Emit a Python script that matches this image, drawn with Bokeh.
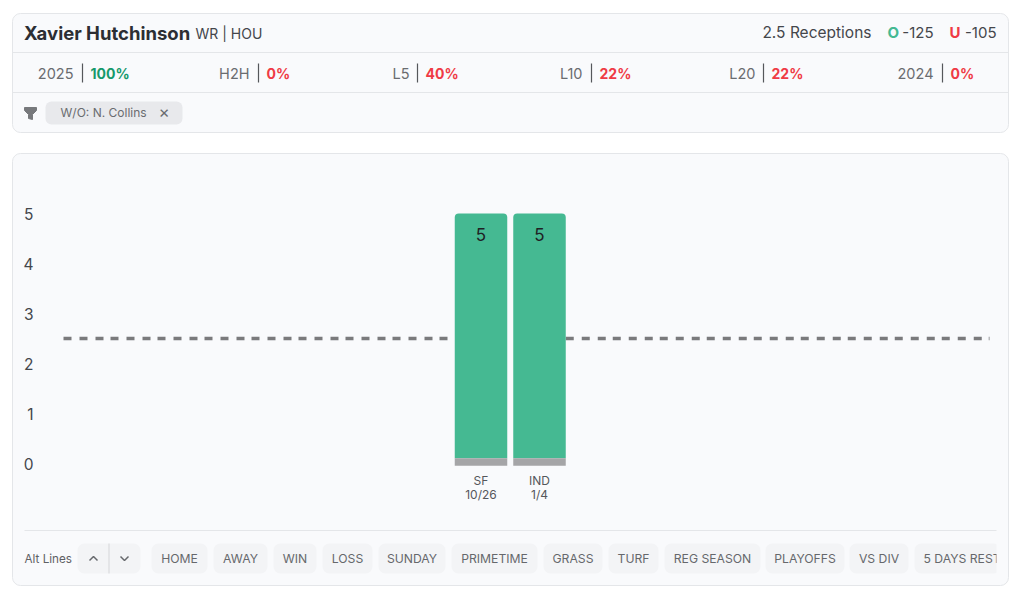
from bokeh.core.properties import value
from bokeh.embed import file_html
from bokeh.resources import INLINE
from bokeh.plotting import figure
from bokeh.models import (BoxAnnotation, ColumnDataSource, FixedTicker, Label,
                          LinearAxis, Range1d)

# ---- chart data ----
opponents = ["SF", "IND"]
dates = ["10/26", "1/4"]
receptions = [5, 5]
line_value = 2.5
y_ticks = [0, 1, 2, 3, 4, 5]
base_low = -0.046
base_high = 0.106

# ---- header data ----
player = "Xavier Hutchinson"
position = "WR | HOU"
market = "2.5 Receptions"
over_odds = "-125"
under_odds = "-105"
split_names = ["2025", "H2H", "L5", "L10", "L20", "2024"]
split_rates = ["100%", "0%", "40%", "22%", "22%", "0%"]
filter_names = ["HOME", "AWAY", "WIN", "LOSS", "SUNDAY", "PRIMETIME", "GRASS",
                "TURF", "REG SEASON", "PLAYOFFS", "VS DIV", "5 DAYS REST"]

# ---- layout constants (page pixels) ----
FONT = "Inter"
W, H = 1024, 598
PAGE = 0
BAR_STEP = 58.5
BAR_W = 52.5
UNIT = 50
X0 = 480.5
Y0 = 463
CARD = "#f9fafc"
EDGE = "#e4e6e9"
GREEN = "#45b992"
RED = "#ef3a45"

p = figure(width=W, height=H, output_backend="svg", toolbar_location=None,
           x_axis_type=None, y_axis_type=None, min_border=0,
           x_range=Range1d((PAGE - X0) / BAR_STEP, (PAGE + W - X0) / BAR_STEP),
           y_range=Range1d((Y0 - PAGE - H) / UNIT, (Y0 - PAGE) / UNIT))
p.grid.visible = False
p.outline_line_color = None
p.background_fill_color = "white"
p.border_fill_color = "white"
p.extra_x_ranges["px"] = Range1d(PAGE, PAGE + W)
p.extra_y_ranges["px"] = Range1d(PAGE + H, PAGE)


def box(l, r, t, b, fill, edge=None, radius=0, level="underlay"):
    a = BoxAnnotation(left=l, right=r, top=t, bottom=b, fill_color=fill, fill_alpha=1,
                      line_color=edge, line_alpha=1 if edge else 0, line_width=1,
                      border_radius=radius, level=level, editable=False,
                      x_range_name="px", y_range_name="px")
    p.add_layout(a)


def text(x, y, s, size=14, color="#555555", weight="normal", align="left", level="annotation"):
    p.add_layout(Label(x=x, y=y, text=s, text_font=FONT, text_font_size=f"{size}px",
                       text_color=color, text_font_style=weight, text_align=align,
                       text_baseline="middle", x_range_name="px", y_range_name="px",
                       level=level))


def rule(xs, ys, color=EDGE, width=1):
    p.line(xs, ys, line_color=color, line_width=width,
           x_range_name="px", y_range_name="px")


# ---- cards ----
box(12, 1008, 132, 13, CARD, EDGE, 8)
box(12, 1008, 585, 153, CARD, EDGE, 8)
rule([12, 1008], [52, 52])
rule([12, 1008], [92, 92])
rule([24, 996], [530, 530])

# ---- header ----
text(23.5, 32, player, 18.5, "#2c2e33", "bold")
text(195, 33, position, 14, "#44464b")
text(871, 32, market, 15.5, "#44464b", align="right")
text(887, 32, "O", 15, GREEN, "bold")
text(933, 32, over_odds, 15, "#44464b", align="right")
text(949, 32, "U", 15, RED, "bold")
text(996, 32, under_odds, 15, "#44464b", align="right")

name_right = [73, 249, 409, 582, 755, 933]
dividers = [82, 258, 417, 591, 763, 942]
for i, (n, r) in enumerate(zip(split_names, split_rates)):
    text(name_right[i], 72.5, n, 14.5, "#6a6c70", align="right")
    rule([dividers[i], dividers[i]], [63, 82], "#55575b", 1.2)
    text(dividers[i] + 8, 72.5, r, 14, "#16996b" if i == 0 else RED, "bold")

# ---- filter chip ----
p.patch([24, 36, 36, 32, 32, 28, 28, 24], [107, 107, 110, 114, 119, 118, 114, 110],
        color="#77797c", x_range_name="px", y_range_name="px")
box(45, 182, 124, 101, "#e8e9ec", None, 6)
text(60, 111.5, "W/O: N. Collins", 12, "#6a6c70")
text(163.5, 111.5, "\u00d7", 17, "#6a6c70", align="center")

# ---- bottom controls ----
text(24, 558, "Alt Lines", 11.7, "#5f6165")
box(77, 140, 573, 543, "#f3f4f6", None, 7)
rule([108.5, 108.5], [543, 573], "#d5d6d9", 1)
p.line([89, 93, 97], [560, 556, 560], line_color="#66686c", line_width=1.5,
       x_range_name="px", y_range_name="px")
p.line([120, 124, 128], [556, 560, 556], line_color="#66686c", line_width=1.5,
       x_range_name="px", y_range_name="px")

chip_left = [151, 213, 273, 322, 378, 451, 543, 608, 664, 765, 849, 914]
chip_right = [207, 267, 316, 372, 445, 537, 602, 658, 760, 844, 908, 1000]
for n, l, r in zip(filter_names, chip_left, chip_right):
    box(l, r, 573, 543, "#f3f4f6", None, 7)
    if n == filter_names[-1]:
        text(923, 558, n, 12.2, "#66686c")
    else:
        text((l + r) / 2, 558, n, 12.2, "#66686c", align="center")
box(996, 1007, 573, 543, CARD, None, 0, level="overlay")

# ---- the chart ----
# the threshold line runs behind the bars and does not show in the gap between them
gap_l = X0 - BAR_W / 2
gap_r = X0 + BAR_STEP * (len(opponents) - 1) + BAR_W / 2
p.line([63, gap_l, float("nan"), gap_r, 989], [line_value] * 5, line_color="#7a7a7c",
       line_width=3.5, line_dash=[8, 8, 8, 8, 8, 7], x_range_name="px")

xs = list(range(len(opponents)))
src = ColumnDataSource(dict(
    x=xs, value=receptions, label=[str(v) for v in receptions],
    floor=[base_high] * len(xs), low=[base_low] * len(xs)))
p.vbar(x="x", width=BAR_W / BAR_STEP, top="value", bottom="floor", source=src,
       fill_color=GREEN, line_color=None, border_radius=(4, 4, 0, 0))
p.vbar(x="x", width=BAR_W / BAR_STEP, top="floor", bottom="low", source=src,
       fill_color="#a5a5a7", line_color=None)
p.text(x="x", y="value", text="label", source=src, y_offset=21, text_align="center",
       text_baseline="middle", text_font=value(FONT), text_font_size="17px", text_color="#1f2124")

y_axis = LinearAxis(fixed_location=(45 - X0) / BAR_STEP,
                    ticker=FixedTicker(ticks=y_ticks))
y_axis.axis_line_color = None
y_axis.major_tick_line_color = None
y_axis.minor_tick_line_color = None
y_axis.major_label_standoff = 6
y_axis.major_label_text_font = FONT
y_axis.major_label_text_font_size = "15.5px"
y_axis.major_label_text_color = "#44464b"
p.add_layout(y_axis, "left")


def bottom_axis(labels, standoff):
    a = LinearAxis(fixed_location=base_low, ticker=FixedTicker(ticks=xs),
                   major_label_overrides=dict(zip(xs, labels)))
    a.axis_line_color = None
    a.major_tick_line_color = None
    a.minor_tick_line_color = None
    a.major_label_standoff = standoff
    a.major_label_text_font = FONT
    a.major_label_text_font_size = "12px"
    a.major_label_text_color = "#55575b"
    p.add_layout(a, "below")


bottom_axis(opponents, 1)
bottom_axis(dates, 15)

open("out.html", "w").write(file_html(p, INLINE))
